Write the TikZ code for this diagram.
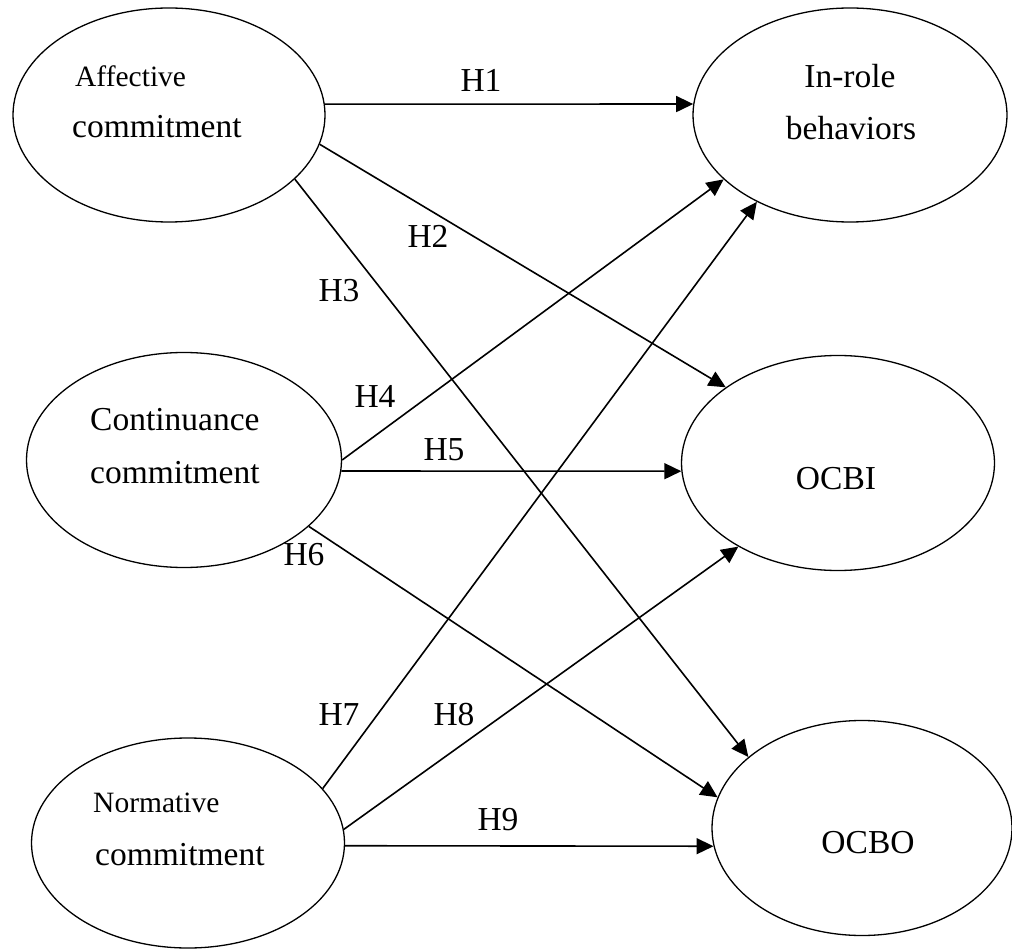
\documentclass[tikz,border=0pt]{standalone}
\usepackage{fontspec}
\setmainfont{Liberation Serif}
\usepackage{tikz}
\usetikzlibrary{shapes.geometric, arrows.meta}

\begin{document}
\begin{tikzpicture}[x=1pt, y=-1pt,
        construct/.style={draw, ellipse, line width=1.3pt, inner sep=0pt},
        txt/.style={inner sep=0pt, font=\fontsize{33.5}{40}\selectfont},
        smalltxt/.style={inner sep=0pt, font=\fontsize{29.5}{35}\selectfont},
        hyp/.style={line width=1.6pt, -{Triangle[length=17pt, width=16pt]}}]
    \useasboundingbox (0,0) rectangle (1012,949);

    % commitment constructs (left)
    \node [construct, minimum width=312pt, minimum height=214pt] (aff) at (169,115) {};
    \node [construct, minimum width=315pt, minimum height=215pt] (con) at (184,460) {};
    \node [construct, minimum width=313pt, minimum height=210pt] (nor) at (188,843) {};

    % behaviour constructs (right)
    \node [construct, minimum width=314pt, minimum height=214pt] (inr) at (850,115) {};
    \node [construct, minimum width=313pt, minimum height=215pt] (ocbi) at (838,463) {};
    \node [construct, minimum width=300pt, minimum height=215pt] (ocbo) at (862,828) {};

    % texts inside the ellipses
    \node [smalltxt, anchor=base west] (affA) at (75,87) {Affective};
    \node [txt, anchor=base west] (affB) at (72,138) {commitment};
    \node [txt, anchor=base west] (conA) at (90,430) {Continuance};
    \node [txt, anchor=base west] (conB) at (90,483) {commitment};
    \node [smalltxt, anchor=base west] (norA) at (93,812) {Normative};
    \node [txt, anchor=base west] (norB) at (95,865) {commitment};
    \node [txt, anchor=base] (inrA) at (850,88) {In-role};
    \node [txt, anchor=base] (inrB) at (851,140) {behaviors};
    \node [txt, anchor=base] (ocbiT) at (836,489) {OCBI};
    \node [txt, anchor=base] (ocboT) at (868,853) {OCBO};

    % hypotheses
    \draw [hyp] (aff.4) -- (inr.176);
    \draw [hyp] (aff.-11.5) -- (ocbi.146.5);
    \draw [hyp] (aff.-27.6) -- (ocbo.148.7);
    \draw [hyp] (con.0.7) -- (inr.207.6);
    \draw [hyp] (con.-4.8) -- (ocbi.183.6);
    \draw [hyp] (con.-28) -- (ocbo.168.2);
    \draw [hyp] (nor.22.2) -- (inr.223.4);
    \draw [hyp] (nor.5.3) -- (ocbi.220.3);
    \draw [hyp] (nor.-1.5) -- (ocbo.187.3);

    % hypothesis labels
    \node [txt, anchor=base] (h1) at (481,92) {H1};
    \node [txt, anchor=base] (h2) at (428,248) {H2};
    \node [txt, anchor=base] (h3) at (339,302) {H3};
    \node [txt, anchor=base] (h4) at (375,407) {H4};
    \node [txt, anchor=base] (h5) at (444,460) {H5};
    \node [txt, anchor=base] (h6) at (304,565) {H6};
    \node [txt, anchor=base] (h7) at (339,725) {H7};
    \node [txt, anchor=base] (h8) at (454,725) {H8};
    \node [txt, anchor=base] (h9) at (498,830) {H9};
\end{tikzpicture}
\end{document}
